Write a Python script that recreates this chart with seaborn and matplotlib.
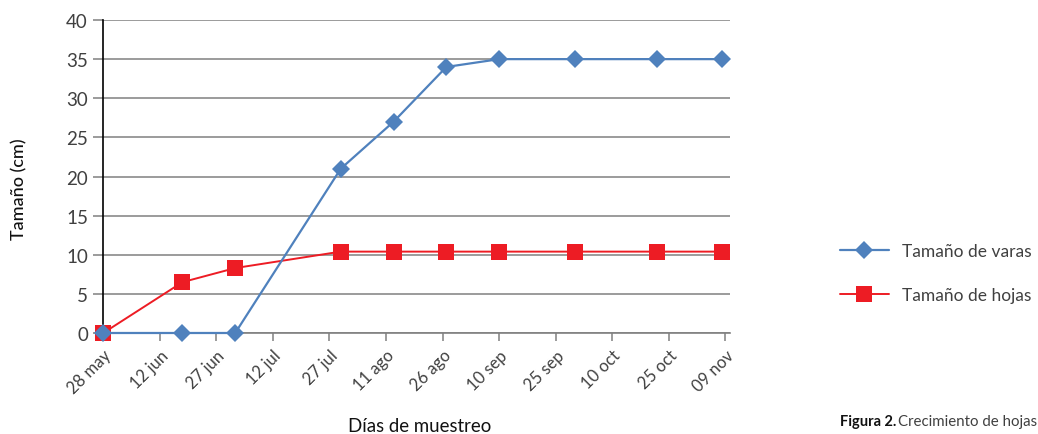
import matplotlib
matplotlib.use("Agg")
import matplotlib.pyplot as plt
import matplotlib.dates as mdates
import matplotlib.ticker as mticker
import pandas as pd
import seaborn as sns

# Sampling dates and measured sizes (cm)
fechas = ["2012-05-28", "2012-06-18", "2012-07-02", "2012-07-30", "2012-08-13",
          "2012-08-27", "2012-09-10", "2012-09-30", "2012-10-22", "2012-11-08"]
varas = [0, 0, 0, 21, 27, 34, 35, 35, 35, 35]
hojas = [0, 6.5, 8.3, 10.4, 10.4, 10.4, 10.4, 10.4, 10.4, 10.4]

# Axis ticks
tick_fechas = ["2012-05-28", "2012-06-12", "2012-06-27", "2012-07-12", "2012-07-27",
               "2012-08-11", "2012-08-26", "2012-09-10", "2012-09-25", "2012-10-10",
               "2012-10-25", "2012-11-09"]
tick_labels = ["28 may", "12 jun", "27 jun", "12 jul", "27 jul", "11 ago", "26 ago",
               "10 sep", "25 sep", "10 oct", "25 oct", "09 nov"]
y_ticks = [0, 5, 10, 15, 20, 25, 30, 35, 40]

serie_varas = "Tamaño de varas"
serie_hojas = "Tamaño de hojas"

sns.set_theme(style="white")
plt.rcParams["font.family"] = ["Lato", "DejaVu Sans"]

azul = "#4F81BD"
rojo = "#ED1C24"
gris = "#808080"
texto = "#404040"

fig = plt.figure(figsize=(10.38, 4.35), dpi=100)
ax = fig.add_axes([0.0995, 0.2322, 0.7033 - 0.0995, 0.9517 - 0.2322])

df = pd.DataFrame({"fecha": pd.to_datetime(fechas), "varas": varas, "hojas": hojas})

sns.lineplot(data=df, x="fecha", y="hojas", ax=ax, color=rojo, linewidth=1.4,
             marker="s", markersize=11, markeredgewidth=0, label=serie_hojas,
             clip_on=False, zorder=3)
sns.lineplot(data=df, x="fecha", y="varas", ax=ax, color=azul, linewidth=1.6,
             marker="D", markersize=9.5, markeredgewidth=0, label=serie_varas,
             clip_on=False, zorder=4)

xt = mdates.date2num(pd.to_datetime(tick_fechas))
ax.set_xlim(xt[0], xt[-1] + 1.25)
ax.set_ylim(0, 40)
ax.xaxis.set_major_locator(mticker.FixedLocator(xt))
ax.xaxis.set_major_formatter(mticker.FixedFormatter(tick_labels))
ax.set_yticks(y_ticks)

ax.yaxis.grid(True, color=gris, linewidth=1.1)
ax.set_axisbelow(True)
for s in ["top", "right"]:
    ax.spines[s].set_visible(False)
ax.spines["left"].set_color("black")
ax.spines["left"].set_linewidth(1.2)
ax.spines["bottom"].set_color(gris)
ax.spines["bottom"].set_linewidth(1.2)

ax.tick_params(axis="x", direction="out", length=6, width=1.1, color=gris,
               bottom=True, labelsize=12, labelcolor=texto, pad=4)
ax.tick_params(axis="y", direction="out", length=7, width=1.1, color=gris,
               left=True, labelsize=13.5, labelcolor=texto, pad=4)
for lab in ax.get_xticklabels():
    lab.set_rotation(45)
    lab.set_ha("right")
    lab.set_rotation_mode("anchor")

ax.set_xlabel("")
ax.set_ylabel("")
fig.text(420 / 1038, 1 - 427 / 435, "Días de muestreo", fontsize=13.4,
         color="#111111", ha="center", va="center")
fig.text(19 / 1038, 1 - 189 / 435, "Tamaño (cm)", fontsize=13, rotation=90,
         color="#111111", fontweight="medium", ha="center", va="center")

handles, labels = ax.get_legend_handles_labels()
order = [labels.index(serie_varas), labels.index(serie_hojas)]
ax.legend([handles[i] for i in order], [labels[i] for i in order],
          loc="upper left", bbox_to_anchor=(840 / 1038, 1 - 244 / 435),
          bbox_transform=fig.transFigure, frameon=False, fontsize=12.5,
          handlelength=2.8, handletextpad=0.75, labelspacing=1.6,
          borderpad=0, borderaxespad=0, labelcolor=texto)

fig.text(840 / 1038, 1 - 422 / 435, "Figura 2.", fontsize=10.5, fontweight="bold",
         color="#111111", va="center", ha="left")
fig.text(898 / 1038, 1 - 422 / 435, "Crecimiento de hojas", fontsize=10.8,
         color=texto, va="center", ha="left")

fig.savefig("out.png", dpi=100)
